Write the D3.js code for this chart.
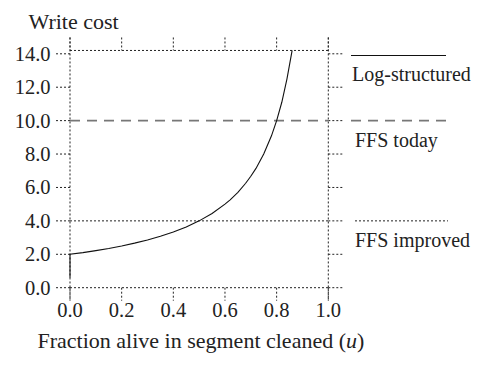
<!DOCTYPE html>
<html>
<head>
<meta charset="utf-8">
<script src="https://cdn.jsdelivr.net/npm/d3@7"></script>
<style>
  body { margin: 0; background: #fff; }
  text { font-family: "Liberation Serif", "DejaVu Serif", serif; fill: #222; }
</style>
</head>
<body>
<svg id="chart" width="487" height="365"></svg>
<script>
// values
const uValues =    [0,   0,   0.05, 0.1,  0.15, 0.2, 0.25, 0.3,  0.35, 0.4,  0.45, 0.5, 0.55, 0.6, 0.62, 0.65, 0.68, 0.7,  0.72, 0.75, 0.78, 0.8,  0.82, 0.84, 0.86];
const writeCost =  [0.6, 2.0, 2.1,  2.22, 2.35, 2.5, 2.67, 2.86, 3.08, 3.33, 3.64, 4.0, 4.44, 5.0, 5.26, 5.71, 6.25, 6.67, 7.14, 8.0,  9.09, 10.0, 11.1, 12.5, 14.2];
const ffsToday = 10;
const ffsImproved = 4;
const xTicks = [0, 0.2, 0.4, 0.6, 0.8, 1.0];
const yTicks = [0, 2, 4, 6, 8, 10, 12, 14];
const yTop = 14.2;
const legendNames = ["Log-structured", "FFS today", "FFS improved"];

const svg = d3.select("#chart");

const x = d3.scaleLinear().domain([0, 1]).range([70, 328.3]);
const y = d3.scaleLinear().domain([0, 14]).range([287.7, 53.8]);

const frame = "#222";
const dotted = "2,2";

// frame (dotted, running past the corners like ticks)
svg.append("line")
  .attr("x1", x(0)).attr("x2", x(1))
  .attr("y1", y(yTop)).attr("y2", y(yTop))
  .attr("stroke", frame).attr("stroke-dasharray", dotted);
svg.append("line")
  .attr("x1", x(0)).attr("x2", x(1))
  .attr("y1", y(0)).attr("y2", y(0))
  .attr("stroke", frame).attr("stroke-dasharray", dotted);
[0, 1].forEach(v => {
  svg.append("line")
    .attr("x1", x(v)).attr("x2", x(v))
    .attr("y1", y(yTop) - 13).attr("y2", y(0) + 13)
    .attr("stroke", frame).attr("stroke-dasharray", dotted);
});

// x ticks, top and bottom
svg.selectAll(".xtick-b").data(xTicks).enter().append("line")
  .attr("x1", d => x(d)).attr("x2", d => x(d))
  .attr("y1", y(0)).attr("y2", y(0) + 13)
  .attr("stroke", frame).attr("stroke-dasharray", dotted);
svg.selectAll(".xtick-t").data(xTicks).enter().append("line")
  .attr("x1", d => x(d)).attr("x2", d => x(d))
  .attr("y1", y(yTop) - 13).attr("y2", y(yTop))
  .attr("stroke", frame).attr("stroke-dasharray", dotted);

// y ticks, left and right
svg.selectAll(".ytick-l").data(yTicks).enter().append("line")
  .attr("x1", x(0) - 14).attr("x2", x(0))
  .attr("y1", d => y(d)).attr("y2", d => y(d))
  .attr("stroke", frame).attr("stroke-dasharray", dotted);
svg.selectAll(".ytick-r").data(yTicks).enter().append("line")
  .attr("x1", x(1)).attr("x2", x(1) + 15)
  .attr("y1", d => y(d)).attr("y2", d => y(d))
  .attr("stroke", frame).attr("stroke-dasharray", dotted);

// tick labels
svg.selectAll(".xlab").data(xTicks).enter().append("text")
  .attr("x", d => x(d)).attr("y", 317)
  .attr("text-anchor", "middle")
  .style("font-size", "20.5px")
  .text(d => d.toFixed(1));
svg.selectAll(".ylab").data(yTicks).enter().append("text")
  .attr("x", 50.5).attr("y", d => y(d) + 7)
  .attr("text-anchor", "end")
  .style("font-size", "20.5px")
  .text(d => d.toFixed(1));

// reference levels
svg.append("line")
  .attr("x1", x(0)).attr("x2", x(1))
  .attr("y1", y(ffsToday)).attr("y2", y(ffsToday))
  .attr("stroke", "#777").attr("stroke-width", 1.6)
  .attr("stroke-dasharray", "10,7");
svg.append("line")
  .attr("x1", x(0)).attr("x2", x(1))
  .attr("y1", y(ffsImproved)).attr("y2", y(ffsImproved))
  .attr("stroke", frame).attr("stroke-dasharray", dotted);

// log-structured curve
const pts = uValues.map((u, i) => [u, writeCost[i]]);
svg.append("path")
  .datum(pts)
  .attr("fill", "none")
  .attr("stroke", "#111")
  .attr("stroke-width", 1.1)
  .attr("d", d3.line().x(d => x(d[0])).y(d => y(d[1])));

// legend on the right
const legendY = [y(13.9), y(ffsToday), y(ffsImproved)];
const legendStyle = [
  { stroke: "#111", dash: null, w: 1.1, x1: 351, x2: 446 },
  { stroke: "#777", dash: "10,7", w: 1.6, x1: 351, x2: 452 },
  { stroke: frame, dash: dotted, w: 1, x1: 355, x2: 448 }
];
legendNames.forEach((name, i) => {
  const s = legendStyle[i];
  svg.append("line")
    .attr("x1", s.x1).attr("x2", s.x2)
    .attr("y1", legendY[i]).attr("y2", legendY[i])
    .attr("stroke", s.stroke).attr("stroke-width", s.w)
    .attr("stroke-dasharray", s.dash);
  svg.append("text")
    .attr("x", i === 0 ? 352 : 355)
    .attr("y", legendY[i] + 26)
    .style("font-size", "20px")
    .text(name);
});

// axis titles
svg.append("text")
  .attr("x", 28.5).attr("y", 28.5)
  .style("font-size", "22px")
  .text("Write cost");

const xTitle = svg.append("text")
  .attr("x", 37.5).attr("y", 347.5)
  .style("font-size", "22px");
xTitle.append("tspan").text("Fraction alive in segment cleaned (");
xTitle.append("tspan").style("font-style", "italic").text("u");
xTitle.append("tspan").text(")");
</script>
</body>
</html>
